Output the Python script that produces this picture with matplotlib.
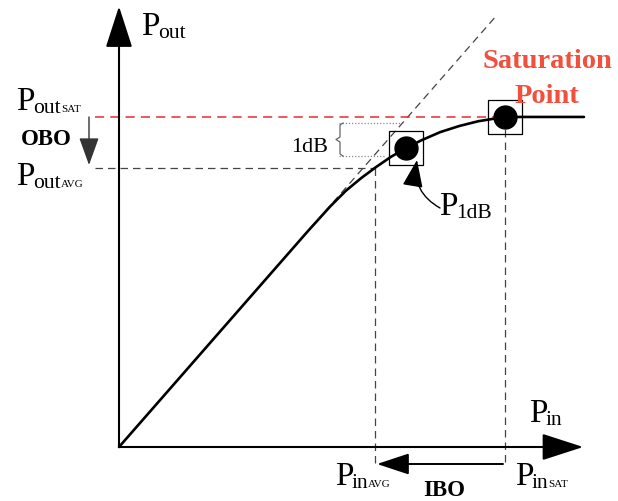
import matplotlib
matplotlib.use("Agg")
import matplotlib.pyplot as plt

plt.rcParams['font.family'] = ['Liberation Serif', 'DejaVu Serif']

# transfer curve (arbitrary dB units)
pin_curve = [0, 5.0, 5.6, 6.0, 6.4, 6.8, 7.2, 7.6, 8.0, 8.5, 9.0, 9.5, 10.2, 12.3]
pout_curve = [0, 5.0, 5.58, 5.93, 6.22, 6.48, 6.72, 6.92, 7.10, 7.29, 7.43, 7.54, 7.64, 7.64]
linear_in = [0, 10.0]
linear_out = [0, 10.0]

p1db_in, p1db_out = 7.6, 6.92
psat_in, psat_out = 10.2, 7.64
pin_avg, pout_avg = 6.77, 6.46
x_axis_end, y_axis_end = 12.28, 10.2

# pixel scale of the drawing
SX, SY = 37.8, 43.2
OX, OY = 119, 447
W, H = 618, 501


def px(x, y):
    # pixel position -> data position (for labels and decorations)
    return (x - OX) / SX, (OY - y) / SY


fig = plt.figure(figsize=(W / 100, H / 100), dpi=100)
ax = fig.add_axes([0, 0, 1, 1])
ax.set_xlim(-OX / SX, (W - OX) / SX)
ax.set_ylim(-(H - OY) / SY, OY / SY)
ax.axis('off')


def arrow(start, end, hl, hw, lw=1.5, color='black', cs='arc3'):
    ax.annotate('', xy=end, xytext=start,
                arrowprops=dict(arrowstyle='-|>,head_length=%g,head_width=%g' % (hl, hw),
                                mutation_scale=20, lw=lw, color=color,
                                shrinkA=0, shrinkB=0, connectionstyle=cs))


# axes
arrow((0, 0), (x_axis_end, 0), 1.3, 0.42)
arrow((0, 0), (0, y_axis_end), 1.3, 0.42)

# linear gain line
ax.plot(linear_in, linear_out, color='#444444', lw=0.9, dashes=(6, 4))

# saturation / average level guides
xl = px(95, 0)[0]
xr = px(585, 0)[0]
ax.plot([xl, xr], [psat_out, psat_out], color='#ea2a30', lw=1.1, dashes=(6, 4))
ax.plot([xl, pin_avg], [pout_avg, pout_avg], color='#444444', lw=0.9, dashes=(6, 4))
yb = px(0, 465)[1]
ax.plot([pin_avg, pin_avg], [pout_avg, yb], color='#444444', lw=0.9, dashes=(6, 4))
ax.plot([psat_in, psat_in], [psat_out, yb], color='#444444', lw=0.9, dashes=(6, 4))

# transfer curve
ax.plot(pin_curve, pout_curve, color='black', lw=1.9, solid_capstyle='round')

# marked points
for x, y in [(p1db_in, p1db_out), (psat_in, psat_out)]:
    ax.plot(x, y, 's', ms=24.5, mfc='none', mec='black', mew=0.9)
    ax.plot(x, y, 'o', ms=16.5, color='black')

# 1dB bracket
ax.plot(*zip(px(339, 123), px(400, 123)), color='#888888', lw=0.9, ls=(0, (1, 1.5)))
ax.plot(*zip(px(339, 156), px(385, 156)), color='#888888', lw=0.9, ls=(0, (1, 1.5)))
brace = [px(343, 123), px(340, 125), px(340, 137), px(336, 139.5),
         px(340, 142), px(340, 154), px(343, 156)]
ax.plot(*zip(*brace), color='#666666', lw=0.9)
ax.text(*px(291, 152), '1dB', fontsize=16, ha='left', va='baseline')

# OBO / IBO arrows
arrow(px(89, 117), px(89, 165), 0.86, 0.31, lw=1.0, color='#333333')
arrow(px(503, 464), px(377, 464), 1.0, 0.33, lw=1.4)

# P1dB pointer
arrow(px(440, 208), px(417, 160), 0.85, 0.32, lw=1.0, cs='arc3,rad=-0.35')

SUB_W = {'out': 27, 'in': 15, '1dB': 34}


def label(x, y, sub, tag=''):
    ax.text(*px(x, y), 'P', fontsize=24, ha='left', va='baseline')
    ax.text(*px(x + 17, y + 3), sub, fontsize=15.5, ha='left', va='baseline')
    if tag:
        ax.text(*px(x + 17 + SUB_W[sub] + 1, y + 2), tag, fontsize=8,
                ha='left', va='baseline')


label(141, 35, 'out')
label(16, 110, 'out', 'SAT')
label(16, 185, 'out', 'AVG')
label(529, 422, 'in')
label(335, 485, 'in', 'AVG')
label(515, 485, 'in', 'SAT')
label(439, 215, '1dB')

ax.text(*px(21, 145), 'OBO', fontsize=16.5, fontweight='bold', ha='left', va='baseline')
ax.text(*px(423, 496), 'IBO', fontsize=16.5, fontweight='bold', ha='left', va='baseline')

ax.text(*px(547, 68), 'Saturation', fontsize=20.5, fontweight='bold', color='#f0503d',
        ha='center', va='baseline')
ax.text(*px(547, 103), 'Point', fontsize=20.5, fontweight='bold', color='#f0503d',
        ha='center', va='baseline')

fig.savefig('out.png', dpi=100)
